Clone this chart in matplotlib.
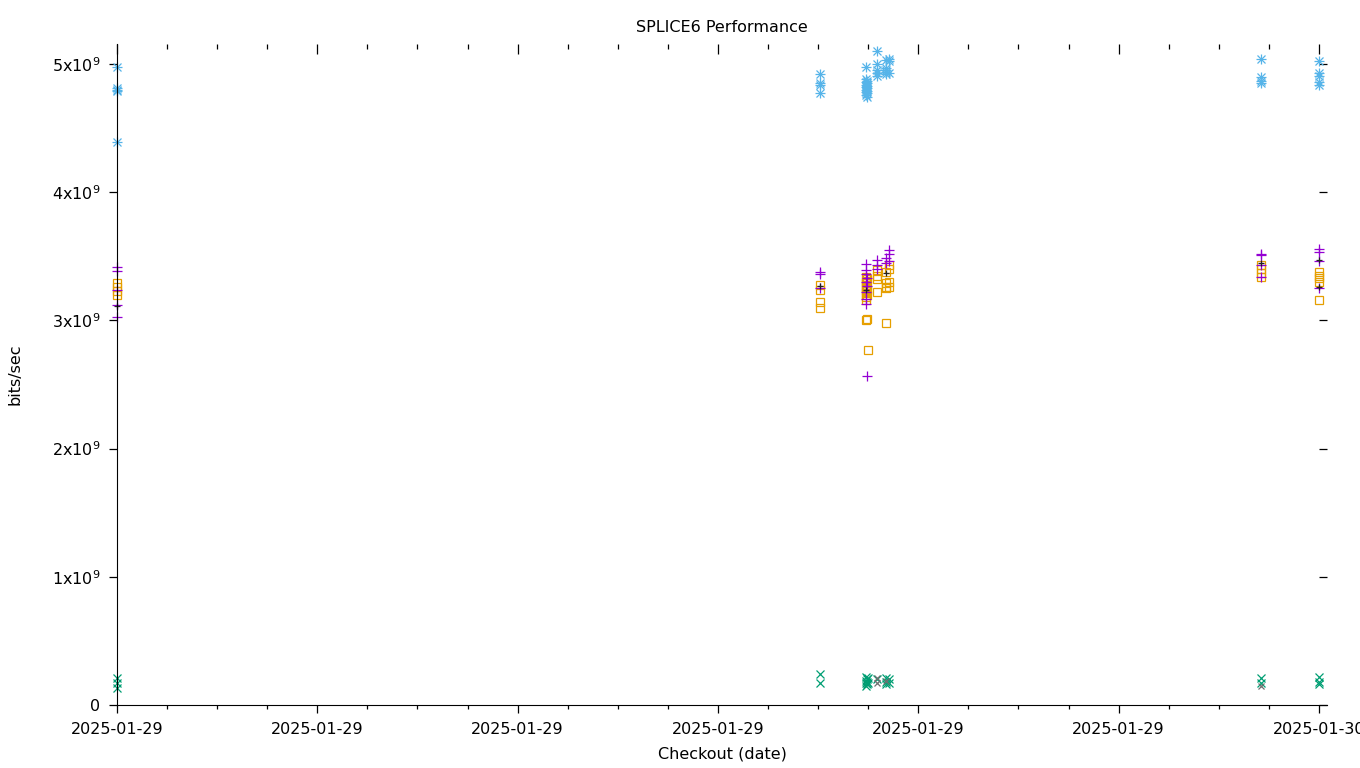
import datetime as dt
import matplotlib
matplotlib.use("Agg")
import matplotlib.pyplot as plt
import matplotlib.dates as mdates
from matplotlib.ticker import FuncFormatter

day = "2025-01-29"

# throughput (blue stars)
blue_t = ["00:00"] * 5 + ["14:02"] * 4 + ["14:57"] * 8 + ["14:58"] * 7 + ["15:10"] * 5 \
    + ["15:21"] * 5 + ["15:25"] * 3 + ["22:50"] * 4 + ["24:00"] * 5
blue_v = [4.98, 4.81, 4.80, 4.79, 4.39,
          4.92, 4.85, 4.84, 4.77,
          4.98, 4.88, 4.86, 4.84, 4.82, 4.80, 4.78, 4.76,
          4.87, 4.85, 4.83, 4.81, 4.79, 4.77, 4.74,
          5.10, 5.00, 4.95, 4.93, 4.91,
          5.03, 4.97, 4.95, 4.94, 4.92,
          5.04, 5.02, 4.93,
          5.04, 4.90, 4.87, 4.85,
          5.02, 4.93, 4.91, 4.86, 4.84]

# purple plus
purple_t = ["00:00"] * 5 + ["14:02"] * 3 + ["14:57"] * 7 + ["14:58"] * 3 + ["15:10"] * 3 \
    + ["15:21"] * 2 + ["15:25"] * 3 + ["22:50"] * 4 + ["24:00"] * 4
purple_v = [3.42, 3.385, 3.24, 3.12, 3.03,
            3.38, 3.36, 3.25,
            3.44, 3.39, 3.36, 3.30, 3.22, 3.17, 3.13,
            3.33, 3.27, 2.57,
            3.47, 3.43, 3.40,
            3.49, 3.45,
            3.55, 3.52, 3.46,
            3.52, 3.51, 3.43, 3.34,
            3.56, 3.53, 3.46, 3.25]

# orange squares
orange_t = ["00:00"] * 4 + ["14:02"] * 4 + ["14:57"] * 10 + ["14:58"] * 5 + ["15:00"] \
    + ["15:10"] * 4 + ["15:21"] * 5 + ["15:25"] * 4 + ["22:50"] * 4 + ["24:00"] * 5
orange_v = [3.29, 3.26, 3.23, 3.20,
            3.28, 3.24, 3.14, 3.10,
            3.34, 3.31, 3.29, 3.27, 3.25, 3.23, 3.21, 3.18, 3.16, 3.00,
            3.32, 3.28, 3.24, 3.20, 3.01,
            2.77,
            3.39, 3.35, 3.32, 3.22,
            3.38, 3.29, 3.26, 3.25, 2.98,
            3.43, 3.40, 3.30, 3.26,
            3.43, 3.40, 3.37, 3.34,
            3.38, 3.35, 3.33, 3.30, 3.16]

# green crosses
green_t = ["00:00"] * 3 + ["14:02"] * 2 + ["14:57"] * 4 + ["14:58"] * 3 + ["15:00"] * 2 \
    + ["15:10"] + ["15:21"] * 3 + ["15:25"] * 2 + ["22:50"] * 2 + ["24:00"] * 3
green_v = [0.21, 0.17, 0.13,
           0.24, 0.17,
           0.22, 0.19, 0.17, 0.15,
           0.20, 0.18, 0.16,
           0.21, 0.17,
           0.20,
           0.21, 0.18, 0.16,
           0.20, 0.17,
           0.21, 0.17,
           0.22, 0.18, 0.16]

# dark extra series
black_t = ["00:00", "14:02", "14:57", "15:21", "22:50", "24:00", "24:00"]
black_v = [3.11, 3.27, 3.24, 3.37, 3.45, 3.47, 3.26]
gray_t = ["15:10", "15:10", "15:21", "22:50"]
gray_v = [0.21, 0.17, 0.19, 0.15]


def to_time(labels):
    base = dt.datetime.fromisoformat(day)
    out = []
    for s in labels:
        h, m = map(int, s.split(":"))
        out.append(base + dt.timedelta(hours=h, minutes=m))
    return out


def to_bits(vals):
    return [v * 1e9 for v in vals]


plt.rcParams["font.family"] = "DejaVu Sans"
plt.rcParams["font.size"] = 11.5

fig = plt.figure(figsize=(13.6, 7.68), dpi=100)
ax = fig.add_axes([117 / 1360, 1 - 705 / 768, 1210 / 1360, 661 / 768])

kw = dict(linestyle="none", markerfacecolor="none", markeredgewidth=0.9, clip_on=False)
ax.plot(to_time(green_t), to_bits(green_v), marker="x", ms=5.5, color="#009e73", **kw)
ax.plot(to_time(gray_t), to_bits(gray_v), marker="x", ms=5, color="#707070", **kw)
ax.plot(to_time(orange_t), to_bits(orange_v), marker="s", ms=5.5, color="#e69f00", **kw)
ax.plot(to_time(purple_t), to_bits(purple_v), marker="+", ms=7, color="#9400d3", **kw)
ax.plot(to_time(black_t), to_bits(black_v), marker="+", ms=5, color="#222222", **kw)
# gnuplot-like asterisk: plus and cross overlaid
bt, bv = to_time(blue_t), to_bits(blue_v)
ax.plot(bt, bv, marker="+", ms=7, color="#56b4e9", **kw)
ax.plot(bt, bv, marker="x", ms=5.5, color="#56b4e9", **kw)

t0 = dt.datetime.fromisoformat(day)
ax.set_xlim(t0, t0 + dt.timedelta(hours=24, minutes=9.6))
ax.set_ylim(0, 5.156e9)

ax.xaxis.set_major_locator(mdates.HourLocator(byhour=range(0, 24, 4)))
ax.xaxis.set_minor_locator(mdates.HourLocator(byhour=range(24)))
ax.xaxis.set_major_formatter(mdates.DateFormatter("%Y-%m-%d"))
ax.yaxis.set_major_locator(plt.MultipleLocator(1e9))
ax.yaxis.set_major_formatter(FuncFormatter(
    lambda v, p: "0" if v == 0 else f"{int(round(v / 1e9))}x10$^{{9}}$"))

for s in ["top", "right"]:
    ax.spines[s].set_visible(False)
ax.tick_params(which="major", direction="out", length=6, width=0.9, pad=6)
ax.tick_params(which="minor", direction="out", length=3, width=0.9)
ax.tick_params(axis="y", which="minor", left=False)

top = ax.secondary_xaxis("top")
top.xaxis.set_major_locator(mdates.HourLocator(byhour=range(0, 24, 4)))
top.xaxis.set_minor_locator(mdates.HourLocator(byhour=range(24)))
top.tick_params(which="major", direction="in", length=7, width=0.9, labeltop=False)
top.tick_params(which="minor", direction="in", length=3.5, width=0.9)
top.spines["top"].set_visible(False)

right = ax.secondary_yaxis("right")
right.yaxis.set_major_locator(plt.MultipleLocator(1e9))
right.tick_params(direction="in", length=6, width=0.9, labelright=False)
right.spines["right"].set_visible(False)

ax.set_title("SPLICE6 Performance", fontsize=11.5, pad=9)
ax.set_xlabel("Checkout (date)", labelpad=7)
ax.set_ylabel("bits/sec", labelpad=21)

fig.savefig("out.png", dpi=100)
